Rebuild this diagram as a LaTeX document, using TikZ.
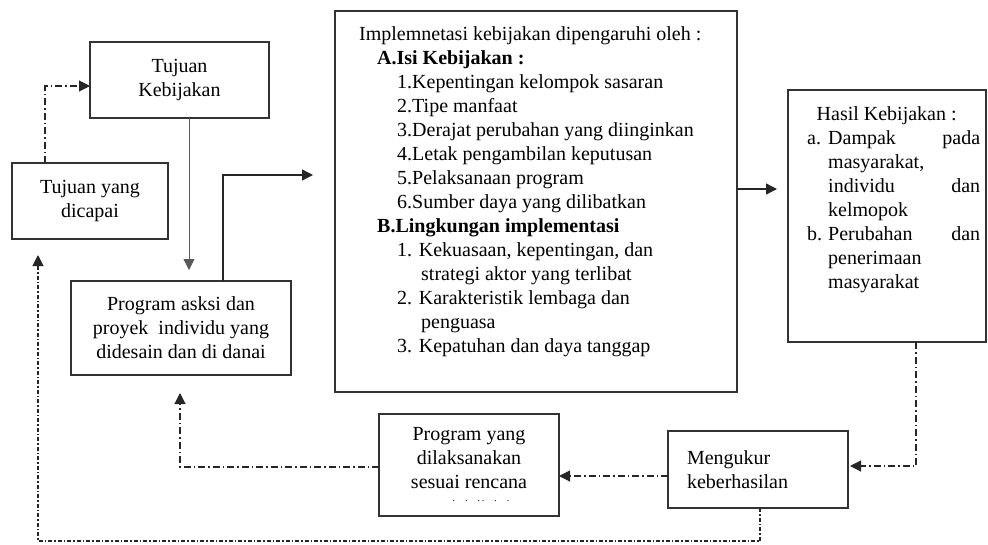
\documentclass[tikz,border=0pt]{standalone}
\usepackage{fontspec}
\setmainfont{Liberation Serif}
\usetikzlibrary{arrows.meta,positioning}

\begin{document}
\begin{tikzpicture}[
  x=1pt, y=-1pt,
  box/.style={draw=black!80, line width=1.4pt, align=center, inner sep=0pt, outer sep=0pt, anchor=north west, font=\fontsize{20}{24}\selectfont},
  txt/.style={inner sep=0pt, anchor=north west, align=left, font=\fontsize{20}{24}\selectfont},
  arr/.style={-{Triangle[length=11pt,width=11pt]}, line width=1.4pt, black!85},
  thinarr/.style={arr, line width=0.8pt, black!65},
  fb/.style={arr, line width=1.1pt, dash pattern=on 7pt off 3pt on 1.5pt off 3pt},
  fbdense/.style={fb, dash pattern=on 4pt off 2pt on 1.5pt off 2pt}
]
  \useasboundingbox (0,0) rectangle (988,544);

  % boxes
  \node[box, minimum width=179, minimum height=76] (tujkeb) at (90,42) {Tujuan\\Kebijakan};
  \node[box, minimum width=156, minimum height=76] (tujcap) at (12,163) {Tujuan yang\\dicapai};
  \node[box, minimum width=220, minimum height=94] (asksi) at (71,281) {Program asksi dan\\proyek\ \ individu yang\\didesain dan di danai};
  \node[box, minimum width=402, minimum height=381] (impl) at (335,11) {};
  \node[box, minimum width=198, minimum height=252] (hasil) at (788,90) {};
  \node[box, minimum width=180, minimum height=102] (progyang) at (379,414) {Program yang\\dilaksanakan\\sesuai rencana\\[-11pt]\hspace*{24pt}{\fontsize{10}{10}\selectfont .\quad .\quad .\,.\quad .\quad .}};
  \node[box, minimum width=180, minimum height=77, align=left, text width=142, inner xsep=19pt] (ukur) at (668,431) {Mengukur\\keberhasilan};

  % box texts
  \node[txt] (impltxt) at (359,26) {Implemnetasi kebijakan dipengaruhi oleh :\\
    \hspace*{18pt}\textbf{A.Isi Kebijakan :}\\
    \hspace*{38pt}1.Kepentingan kelompok sasaran\\
    \hspace*{38pt}2.Tipe manfaat\\
    \hspace*{38pt}3.Derajat perubahan yang diinginkan\\
    \hspace*{38pt}4.Letak pengambilan keputusan\\
    \hspace*{38pt}5.Pelaksanaan program\\
    \hspace*{38pt}6.Sumber daya yang dilibatkan\\
    \hspace*{18pt}\textbf{B.Lingkungan implementasi}\\
    \hspace*{38pt}1. Kekuasaan, kepentingan, dan\\
    \hspace*{62pt}strategi aktor yang terlibat\\
    \hspace*{38pt}2. Karakteristik lembaga dan\\
    \hspace*{62pt}penguasa\\
    \hspace*{38pt}3. Kepatuhan dan daya tanggap};
  \node[txt] (hasiltxt) at (807,106) {\makebox[159pt][c]{Hasil Kebijakan :}\\
    \makebox[21pt][l]{a.}\makebox[152pt][l]{Dampak\hfill pada}\\
    \hspace*{21pt}masyarakat,\\
    \hspace*{21pt}\makebox[152pt][l]{individu\hfill dan}\\
    \hspace*{21pt}kelmopok\\
    \makebox[21pt][l]{b.}\makebox[152pt][l]{Perubahan\hfill dan}\\
    \hspace*{21pt}penerimaan\\
    \hspace*{21pt}masyarakat};

  % corners
  \coordinate (p1) at (45,86);
  \coordinate (p2) at (189,0);
  \coordinate (p3) at (223,175);
  \coordinate (p4) at (0,189);
  \coordinate (p5) at (916,466);
  \coordinate (p6) at (0,476);
  \coordinate (p7) at (180,467);
  \coordinate (p8) at (760,541);
  \coordinate (p9) at (38,541);

  % connectors
  \draw[fb] (tujcap.north -| p1) -- (p1) -- (tujkeb.west |- p1);
  \draw[thinarr, shorten >=11pt] (tujkeb.south -| p2) -- (asksi.north -| p2);
  \draw[arr, shorten >=22pt] (asksi.north -| p3) -- (p3) -- (impl.west |- p3);
  \draw[arr, shorten >=11pt] (impl.east |- p4) -- (hasil.west |- p4);
  \draw[fb, shorten >=2pt] (hasil.south -| p5) -- (p5) -- (ukur.east |- p5);
  \draw[fb] (ukur.west |- p6) -- (progyang.east |- p6);
  \draw[fb, shorten >=18pt] (progyang.west |- p7) -- (p7) -- (asksi.south -| p7);
  \draw[fbdense, shorten >=16pt] (ukur.south -| p8) -- (p8) -- (p9) -- (tujcap.south -| p9);
\end{tikzpicture}
\end{document}
